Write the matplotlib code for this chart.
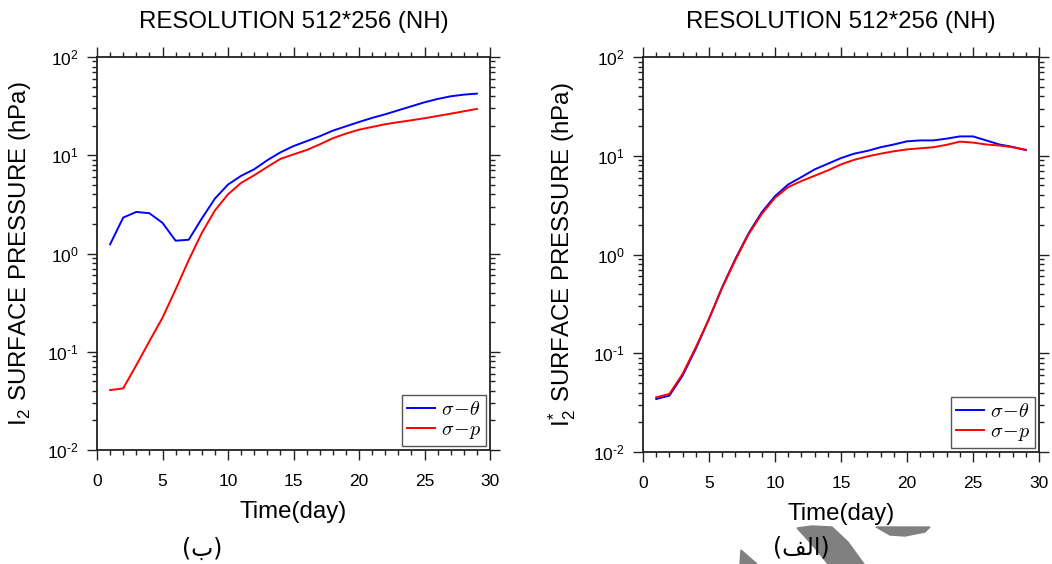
import math
import matplotlib
matplotlib.use("Agg")
import matplotlib.pyplot as plt
from matplotlib.ticker import FixedLocator, FuncFormatter, LogLocator, MultipleLocator, NullFormatter
from matplotlib.patches import Polygon

plt.rcParams['font.family'] = ['Liberation Sans', 'DejaVu Sans']
plt.rcParams['mathtext.fontset'] = 'cm'

days = list(range(1, 30))

# Left panel (ب): I2 surface pressure
left_sigma_theta = [1.24, 2.32, 2.65, 2.57, 2.05, 1.35, 1.38, 2.27, 3.62, 5.03,
                    6.17, 7.2, 8.9, 10.7, 12.4, 13.9, 15.6, 17.8, 19.7, 21.8,
                    24.0, 26.1, 28.7, 31.5, 34.6, 37.4, 39.8, 41.4, 42.4]
left_sigma_p = [0.0407, 0.0424, 0.073, 0.128, 0.222, 0.43, 0.855, 1.62, 2.74, 4.0,
                5.23, 6.26, 7.6, 9.18, 10.2, 11.3, 12.9, 14.9, 16.6, 18.2,
                19.4, 20.7, 21.7, 22.7, 23.8, 25.1, 26.5, 28.0, 29.6]

# Right panel (الف): I2* surface pressure
right_sigma_theta = [0.0344, 0.0372, 0.0594, 0.111, 0.223, 0.467, 0.904, 1.64, 2.68, 3.9,
                     5.12, 6.08, 7.27, 8.3, 9.47, 10.5, 11.2, 12.2, 13.0, 14.0,
                     14.3, 14.3, 14.9, 15.7, 15.7, 14.3, 13.0, 12.3, 11.4]
right_sigma_p = [0.0358, 0.0387, 0.0618, 0.115, 0.223, 0.46, 0.88, 1.6, 2.58, 3.75,
                 4.81, 5.54, 6.27, 7.1, 8.17, 9.1, 9.84, 10.5, 11.1, 11.6,
                 11.9, 12.2, 12.9, 13.9, 13.6, 13.0, 12.7, 12.2, 11.5]

title = "RESOLUTION 512*256 (NH)"
xlabel = "Time(day)"
ylabel_left = r"I$_\mathregular{2}$ SURFACE PRESSURE (hPa)"
ylabel_right = r"I$_\mathregular{2}^\mathregular{*}$ SURFACE PRESSURE (hPa)"
legend_labels = [r"$\sigma\!-\!\theta$", r"$\sigma\!-\!p$"]
ytick_vals = [1e-2, 1e-1, 1e0, 1e1, 1e2]
xtick_vals = [0, 5, 10, 15, 20, 25, 30]
# Arabic panel labels in visual (shaped) order: (ب) and (الف)
panel_left = "(\uFE8F)"
panel_right = "(\uFED2\uFEDF\uFE8D)"

W, H = 1052, 564
fig = plt.figure(figsize=(W / 100, H / 100), dpi=100)


def frac(x0, y0, x1, y1):
    return [x0 / W, 1 - y1 / H, (x1 - x0) / W, (y1 - y0) / H]


def yfmt(v, pos):
    e = int(round(math.log10(v)))
    s = str(e).replace('-', '\u2010')
    return r"$\mathregular{10^{%s}}$" % s


def style(ax, ylabel, xlab_x):
    ax.set_yscale('log')
    ax.set_xlim(0, 30)
    ax.set_ylim(1e-2, 1e2)
    ax.xaxis.set_major_locator(FixedLocator(xtick_vals))
    ax.xaxis.set_minor_locator(MultipleLocator(1))
    ax.yaxis.set_major_locator(FixedLocator(ytick_vals))
    ax.yaxis.set_major_formatter(FuncFormatter(yfmt))
    ax.yaxis.set_minor_locator(LogLocator(base=10, subs=range(2, 10)))
    ax.yaxis.set_minor_formatter(NullFormatter())
    ax.tick_params(which='both', direction='out', top=True, right=True,
                   width=1.0, color='#222222')
    ax.tick_params(which='major', length=7, labelsize=12.5)
    ax.tick_params(axis='x', which='major', pad=10)
    ax.tick_params(axis='y', which='major', pad=6)
    ax.tick_params(which='minor', length=3.5)
    for s in ax.spines.values():
        s.set_linewidth(1.3)
        s.set_color('#222222')
    ax.set_title(title, fontsize=17.3, pad=21)
    ax.set_xlabel(xlabel, fontsize=17.3, labelpad=9)
    ax.set_ylabel(ylabel, fontsize=17.3)
    ax.yaxis.set_label_coords(xlab_x, 0.5)
    leg = ax.legend(legend_labels, loc='lower right', fontsize=14.5,
                    handlelength=1.35, handletextpad=0.3, borderpad=0.25,
                    labelspacing=0.05, fancybox=False, framealpha=1,
                    borderaxespad=0.2, edgecolor='#555555')
    leg.get_frame().set_linewidth(1.0)


ax1 = fig.add_axes(frac(97, 57, 490, 450))
ax1.plot(days, left_sigma_theta, color='#0000ff', lw=1.4)
ax1.plot(days, left_sigma_p, color='#ff0000', lw=1.4)
style(ax1, ylabel_left, -0.163)

ax2 = fig.add_axes(frac(643, 57, 1039, 452))
ax2.plot(days, right_sigma_theta, color='#0000ff', lw=1.4)
ax2.plot(days, right_sigma_p, color='#ff0000', lw=1.4)
style(ax2, ylabel_right, -0.163)


# gray watermark fragments (image artifact)
def fp(pts):
    return [(x / W, 1 - y / H) for x, y in pts]


gray = '#808080'
fig.patches.append(Polygon(fp([(797, 528), (812, 526), (832, 527), (848, 542), (864, 564),
                               (828, 564), (815, 548)]), closed=True,
                           transform=fig.transFigure, color=gray, zorder=0))
fig.patches.append(Polygon(fp([(876, 527), (930, 527), (925, 532), (905, 536), (890, 535)]),
                           closed=True, transform=fig.transFigure, color=gray, zorder=0))
fig.patches.append(Polygon(fp([(741, 550), (757, 564), (740, 564)]), closed=True,
                           transform=fig.transFigure, color=gray, zorder=0))

fig.text(202 / W, 1 - 549 / H, panel_left, fontsize=17, ha='center', va='center',
         family=['DejaVu Sans'])
fig.text(801 / W, 1 - 547 / H, panel_right, fontsize=17, ha='center', va='center',
         family=['DejaVu Sans'])

fig.savefig('out.png', dpi=100)
